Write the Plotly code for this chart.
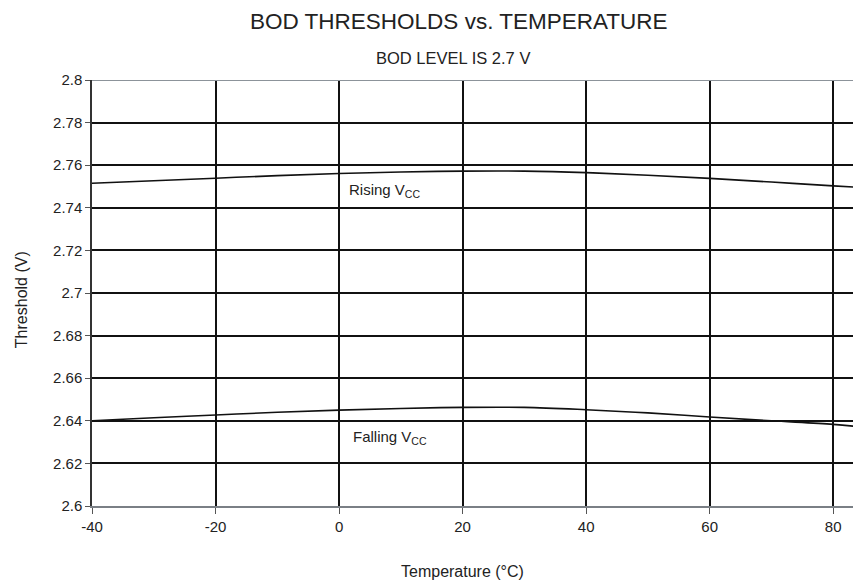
import plotly.graph_objects as go

temperature = [-40, -30, -20, -10, 0, 10, 20, 30, 40, 50, 60, 70, 80, 85]
rising_vcc = [2.7515, 2.7527, 2.7539, 2.7551, 2.7561, 2.7568, 2.7572, 2.7572,
              2.7565, 2.7553, 2.7538, 2.7521, 2.7503, 2.7495]
falling_vcc = [2.6400, 2.6414, 2.6427, 2.6440, 2.6450, 2.6458, 2.6463, 2.6463,
               2.6452, 2.6437, 2.6418, 2.6400, 2.6383, 2.6370]
x_ticks = [-40, -20, 0, 20, 40, 60, 80]
y_ticks = [2.6, 2.62, 2.64, 2.66, 2.68, 2.7, 2.72, 2.74, 2.76, 2.78, 2.8]
y_tick_text = ["2.6", "2.62", "2.64", "2.66", "2.68", "2.7", "2.72", "2.74", "2.76", "2.78", "2.8"]

FONT = "Liberation Sans, Arial, sans-serif"
TXT = "#222222"

# the page body adds an 8px offset; figure coordinates are page coordinates minus 8
OFF = 8
W, H = 861 - OFF, 583 - OFF
ML, MR, MT = 92 - OFF, 0, 80 - OFF
MB = H - (505.7 - OFF)
PW, PH = W - ML - MR, H - MT - MB


def px_x(px):
    return (px - OFF - ML) / PW


def px_y(py):
    return (H - MB - (py - OFF)) / PH


fig = go.Figure()
fig.add_trace(go.Scatter(x=temperature, y=rising_vcc, mode="lines",
                         line=dict(color="#111111", width=1.6, shape="spline"),
                         showlegend=False))
fig.add_trace(go.Scatter(x=temperature, y=falling_vcc, mode="lines",
                         line=dict(color="#111111", width=1.6, shape="spline"),
                         showlegend=False))

fig.add_annotation(x=7.4, y=2.7483, text="Rising V<sub>CC</sub>", showarrow=False,
                   font=dict(family=FONT, size=15, color=TXT))
fig.add_annotation(x=8.2, y=2.6323, text="Falling V<sub>CC</sub>", showarrow=False,
                   font=dict(family=FONT, size=15, color=TXT))

# titles
fig.add_annotation(xref="paper", yref="paper", x=px_x(458.5), y=px_y(22),
                   text="BOD THRESHOLDS vs. TEMPERATURE", showarrow=False,
                   xanchor="center", yanchor="middle",
                   font=dict(family=FONT, size=22.5, color=TXT))
fig.add_annotation(xref="paper", yref="paper", x=px_x(453), y=px_y(58),
                   text="BOD LEVEL IS 2.7 V", showarrow=False,
                   xanchor="center", yanchor="middle",
                   font=dict(family=FONT, size=16.5, color=TXT))
fig.add_annotation(xref="paper", yref="paper", x=px_x(462), y=px_y(571),
                   text="Temperature (°C)", showarrow=False,
                   xanchor="center", yanchor="middle",
                   font=dict(family=FONT, size=16, color=TXT))
fig.add_annotation(xref="paper", yref="paper", x=px_x(21), y=px_y(300),
                   text="Threshold (V)", showarrow=False, textangle=-90,
                   xanchor="center", yanchor="middle",
                   font=dict(family=FONT, size=16, color=TXT))

fig.add_shape(type="line", xref="paper", x0=0, x1=1, yref="y", y0=2.8, y1=2.8,
              line=dict(color="#8c939a", width=2))

fig.update_layout(
    width=W, height=H,
    margin=dict(l=ML, r=MR, t=MT, b=MB, autoexpand=False),
    paper_bgcolor="white", plot_bgcolor="white",
    font=dict(family=FONT, size=15, color=TXT),
)

fig.update_xaxes(range=[-40, 84.5], tickvals=x_ticks, ticktext=[str(v) for v in x_ticks],
                 showgrid=True, gridcolor="#111111", gridwidth=2,
                 showline=True, linecolor="#7a7f85", linewidth=1.5,
                 ticks="outside", ticklen=6, tickcolor="#555", tickwidth=1,
                 zeroline=False, automargin=False,
                 tickfont=dict(size=15))
fig.update_yaxes(range=[2.6, 2.8], tickvals=y_ticks, ticktext=y_tick_text,
                 showgrid=True, gridcolor="#111111", gridwidth=2,
                 showline=True, linecolor="#333", linewidth=1.5,
                 ticks="outside", ticklen=5, tickcolor="#555", tickwidth=1,
                 zeroline=False, automargin=False,
                 tickfont=dict(size=15))

fig.write_html("out.html")
